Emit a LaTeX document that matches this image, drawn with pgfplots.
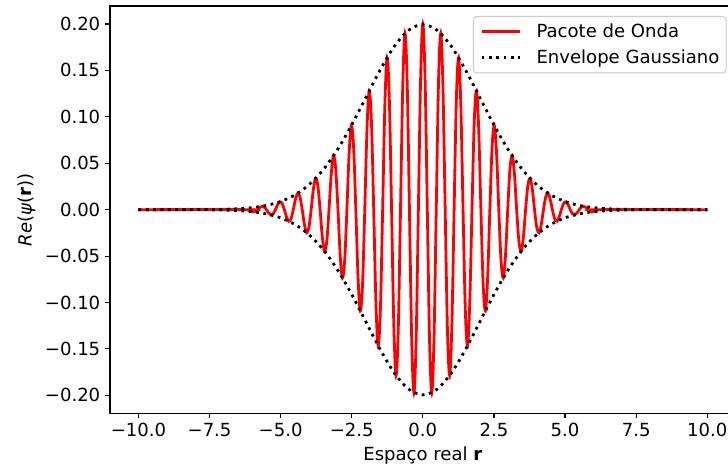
\documentclass[border=0pt]{standalone}
\usepackage{fontspec}
\setmainfont{DejaVu Sans}
\usepackage{pgfplots}
\pgfplotsset{compat=1.18}
\begin{document}
\begin{tikzpicture}
\begin{axis}[
  scale only axis, width=450.5pt, height=293.3pt,
  xmin=-11, xmax=11, ymin=-0.2194, ymax=0.2194,
  xtick={-10,-7.5,-5,-2.5,0,2.5,5,7.5,10},
  xticklabels={−10.0,−7.5,−5.0,−2.5,0.0,2.5,5.0,7.5,10.0},
  ytick={-0.2,-0.15,-0.1,-0.05,0,0.05,0.1,0.15,0.2},
  yticklabels={−0.20,−0.15,−0.10,−0.05,0.00,0.05,0.10,0.15,0.20},
  tick align=outside, xtick pos=bottom, ytick pos=left,
  major tick length=3.5pt,
  every tick/.style={black, line width=0.8pt},
  axis line style={line width=0.8pt},
  tick label style={font=\fontsize{13}{15}\selectfont},
  label style={font=\fontsize{13}{15}\selectfont},
  xlabel={Espaço real \textbf{r}},
  ylabel={\textit{Re}(\textit{ψ}(\textbf{r}))},
  legend cell align=left,
  legend style={at={(rel axis cs:1,1)}, anchor=north east, xshift=-6.5pt, yshift=-7.2pt,
    draw=black!20, rounded corners=2.5pt, fill=white, line width=0.8pt,
    font=\fontsize{13}{15}\selectfont, inner xsep=4.8pt, inner ysep=5.2pt,
    nodes={inner sep=0pt}, row sep=7.4pt, column sep=10.6pt},
  legend image code/.code={\draw[#1] (0pt,0pt) -- (28pt,0pt);},
]
\addplot[red, line width=2pt, smooth, tension=0.55] coordinates {
(-10,0)
(-6.12611,0) (-6.04757,-0.00146) (-5.96903,-0.00232) (-5.89049,-0.00185)
(-5.81195,0) (-5.73341,0.00232) (-5.65487,0.00366) (-5.57633,0.00289)
(-5.49779,0) (-5.41925,-0.00359) (-5.34071,-0.00564) (-5.26217,-0.00443)
(-5.18363,0) (-5.10509,0.00543) (-5.02655,0.00848) (-4.94801,0.00661)
(-4.86947,0) (-4.79093,-0.00800) (-4.71239,-0.01243) (-4.63385,-0.00963)
(-4.55531,0) (-4.47677,0.01152) (-4.39823,0.01777) (-4.31969,0.01369)
(-4.24115,0) (-4.16261,-0.01617) (-4.08407,-0.02479) (-4.00553,-0.01898)
(-3.92699,0) (-3.84845,0.02215) (-3.76991,0.03375) (-3.69137,0.02568)
(-3.61283,0) (-3.53429,-0.02960) (-3.45575,-0.04483) (-3.37721,-0.03390)
(-3.29867,0) (-3.22013,0.03859) (-3.14159,0.05809) (-3.06305,0.04366)
(-2.98451,0) (-2.90597,-0.04909) (-2.82743,-0.07343) (-2.74889,-0.05485)
(-2.67035,0) (-2.59181,0.06091) (-2.51327,0.09057) (-2.43473,0.06723)
(-2.35619,0) (-2.27765,-0.07374) (-2.19911,-0.10898) (-2.12058,-0.08040)
(-2.04204,0) (-1.96350,0.08711) (-1.88496,0.12794) (-1.80642,0.09380)
(-1.72788,0) (-1.64934,-0.10039) (-1.57080,-0.14653) (-1.49226,-0.10678)
(-1.41372,0) (-1.33518,0.11287) (-1.25664,0.16374) (-1.17810,0.11858)
(-1.09956,0) (-1.02102,-0.12381) (-0.94248,-0.17851) (-0.86394,-0.12848)
(-0.78540,0) (-0.70686,0.13251) (-0.62832,0.18987) (-0.54978,0.13582)
(-0.47124,0) (-0.39270,-0.13835) (-0.31416,-0.19702) (-0.23562,-0.14007)
(-0.15708,0) (-0.07854,0.14094)
(0,0.19947)
(0.07854,0.14094) (0.15708,0)
(0.23562,-0.14007) (0.31416,-0.19702) (0.39270,-0.13835) (0.47124,0)
(0.54978,0.13582) (0.62832,0.18987) (0.70686,0.13251) (0.78540,0)
(0.86394,-0.12848) (0.94248,-0.17851) (1.02102,-0.12381) (1.09956,0)
(1.17810,0.11858) (1.25664,0.16374) (1.33518,0.11287) (1.41372,0)
(1.49226,-0.10678) (1.57080,-0.14653) (1.64934,-0.10039) (1.72788,0)
(1.80642,0.09380) (1.88496,0.12794) (1.96350,0.08711) (2.04204,0)
(2.12058,-0.08040) (2.19911,-0.10898) (2.27765,-0.07374) (2.35619,0)
(2.43473,0.06723) (2.51327,0.09057) (2.59181,0.06091) (2.67035,0)
(2.74889,-0.05485) (2.82743,-0.07343) (2.90597,-0.04909) (2.98451,0)
(3.06305,0.04366) (3.14159,0.05809) (3.22013,0.03859) (3.29867,0)
(3.37721,-0.03390) (3.45575,-0.04483) (3.53429,-0.02960) (3.61283,0)
(3.69137,0.02568) (3.76991,0.03375) (3.84845,0.02215) (3.92699,0)
(4.00553,-0.01898) (4.08407,-0.02479) (4.16261,-0.01617) (4.24115,0)
(4.31969,0.01369) (4.39823,0.01777) (4.47677,0.01152) (4.55531,0)
(4.63385,-0.00963) (4.71239,-0.01243) (4.79093,-0.00800) (4.86947,0)
(4.94801,0.00661) (5.02655,0.00848) (5.10509,0.00543) (5.18363,0)
(5.26217,-0.00443) (5.34071,-0.00564) (5.41925,-0.00359) (5.49779,0)
(5.57633,0.00289) (5.65487,0.00366) (5.73341,0.00232) (5.81195,0)
(5.89049,-0.00185) (5.96903,-0.00232) (6.04757,-0.00146) (6.12611,0)
(10,0)
};
\addlegendentry{Pacote de Onda}
\addplot[black, line width=2pt, smooth, dash pattern=on 2pt off 3.3pt] coordinates {
(-10,0) (-8,0.00007) (-7.5,0.00018) (-7,0.00044) (-6.5,0.00101) (-6,0.00222)
(-5.5,0.00455) (-5,0.00876) (-4.5,0.01587) (-4,0.02700) (-3.5,0.04314)
(-3,0.06476) (-2.5,0.09132) (-2,0.12099) (-1.5,0.15057) (-1,0.17603)
(-0.5,0.19333) (0,0.19947) (0.5,0.19333) (1,0.17603) (1.5,0.15057)
(2,0.12099) (2.5,0.09132) (3,0.06476) (3.5,0.04314) (4,0.02700)
(4.5,0.01587) (5,0.00876) (5.5,0.00455) (6,0.00222) (6.5,0.00101)
(7,0.00044) (7.5,0.00018) (8,0.00007) (10,0)
};
\addlegendentry{Envelope Gaussiano}
\addplot[black, line width=2pt, smooth, dash pattern=on 2pt off 3.3pt, forget plot] coordinates {
(-10,0) (-8,-0.00007) (-7.5,-0.00018) (-7,-0.00044) (-6.5,-0.00101) (-6,-0.00222)
(-5.5,-0.00455) (-5,-0.00876) (-4.5,-0.01587) (-4,-0.02700) (-3.5,-0.04314)
(-3,-0.06476) (-2.5,-0.09132) (-2,-0.12099) (-1.5,-0.15057) (-1,-0.17603)
(-0.5,-0.19333) (0,-0.19947) (0.5,-0.19333) (1,-0.17603) (1.5,-0.15057)
(2,-0.12099) (2.5,-0.09132) (3,-0.06476) (3.5,-0.04314) (4,-0.02700)
(4.5,-0.01587) (5,-0.00876) (5.5,-0.00455) (6,-0.00222) (6.5,-0.00101)
(7,-0.00044) (7.5,-0.00018) (8,-0.00007) (10,0)
};
\end{axis}
\pgfresetboundingbox
\path[use as bounding box] ([shift={(-79.2pt,-43.7pt)}]current axis.south west) rectangle ([shift={(444.96pt,4.32pt)}]current axis.north west);
\end{tikzpicture}
\end{document}
